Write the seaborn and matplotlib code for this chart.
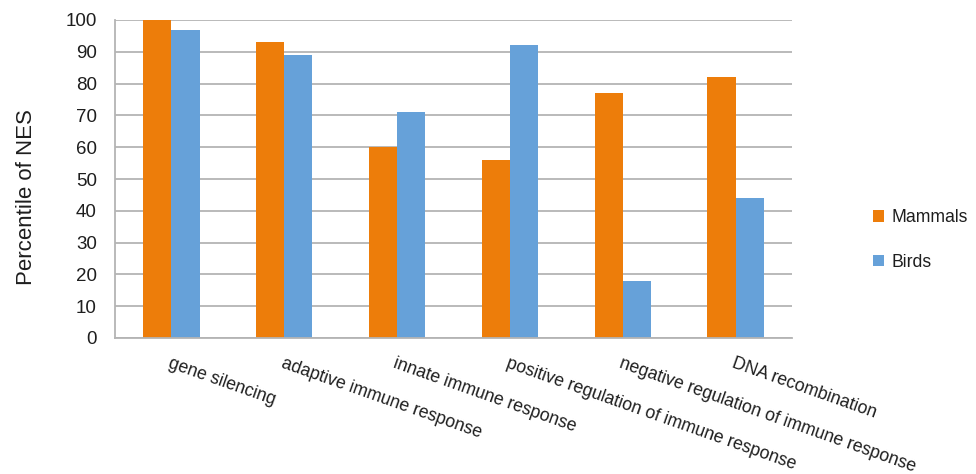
import matplotlib
matplotlib.use("Agg")
import matplotlib.pyplot as plt
from matplotlib.patches import Patch
import seaborn as sns
import pandas as pd

categories = [
    "gene silencing",
    "adaptive immune response",
    "innate immune response",
    "positive regulation of immune response",
    "negative regulation of immune response",
    "DNA recombination",
]
mammals = [100, 93, 60, 56, 77, 82]
birds = [97, 89, 71, 92, 18, 44]
series_names = ["Mammals", "Birds"]
colors = ["#ED7D0A", "#66A1D9"]
y_ticks = [0, 10, 20, 30, 40, 50, 60, 70, 80, 90, 100]

df = pd.DataFrame({
    "term": categories * 2,
    "group": [series_names[0]] * len(categories) + [series_names[1]] * len(categories),
    "value": mammals + birds,
})

sns.set_style("white")
plt.rcParams["font.family"] = ["Liberation Sans", "DejaVu Sans"]
text_color = "#1e1e1e"
grid_color = "#b4b4b4"

fig = plt.figure(figsize=(9.76, 4.74), dpi=100)
ax = fig.add_axes([115 / 976, 1 - 338 / 474, 677 / 976, 318 / 474])

sns.barplot(data=df, x="term", y="value", hue="group", order=categories,
            hue_order=series_names, palette=colors, width=0.5, gap=0,
            saturation=1, linewidth=0, errorbar=None, legend=False, ax=ax)

ax.set_ylim(0, 100)
ax.set_xlim(-0.5, len(categories) - 0.5)
ax.set_yticks(y_ticks)
ax.yaxis.grid(True, color=grid_color, linewidth=1.3)
ax.set_axisbelow(True)
for side in ["top", "right"]:
    ax.spines[side].set_visible(False)
for side in ["left", "bottom"]:
    ax.spines[side].set_color(grid_color)
    ax.spines[side].set_linewidth(1.3)

ax.tick_params(axis="y", length=0, pad=13, labelsize=13.5, labelcolor=text_color)
ax.tick_params(axis="x", length=0, pad=12, labelsize=12.7, labelcolor=text_color)
plt.setp(ax.get_xticklabels(), rotation=-19.5, ha="left", va="top",
         rotation_mode="anchor")

ax.set_xlabel("")
ax.set_ylabel("Percentile of NES", fontsize=16, color=text_color)
ax.yaxis.set_label_coords(-0.115, 0.443)

handles = [Patch(facecolor=c, edgecolor="none", label=n) for c, n in zip(colors, series_names)]
fig.legend(handles=handles, loc="center left", bbox_to_anchor=(857 / 976, 1 - 240 / 474),
           frameon=False, fontsize=12.7, handlelength=0.65, handleheight=0.65,
           handletextpad=0.4, labelspacing=1.55, labelcolor=text_color)

fig.savefig("out.png", dpi=100)
